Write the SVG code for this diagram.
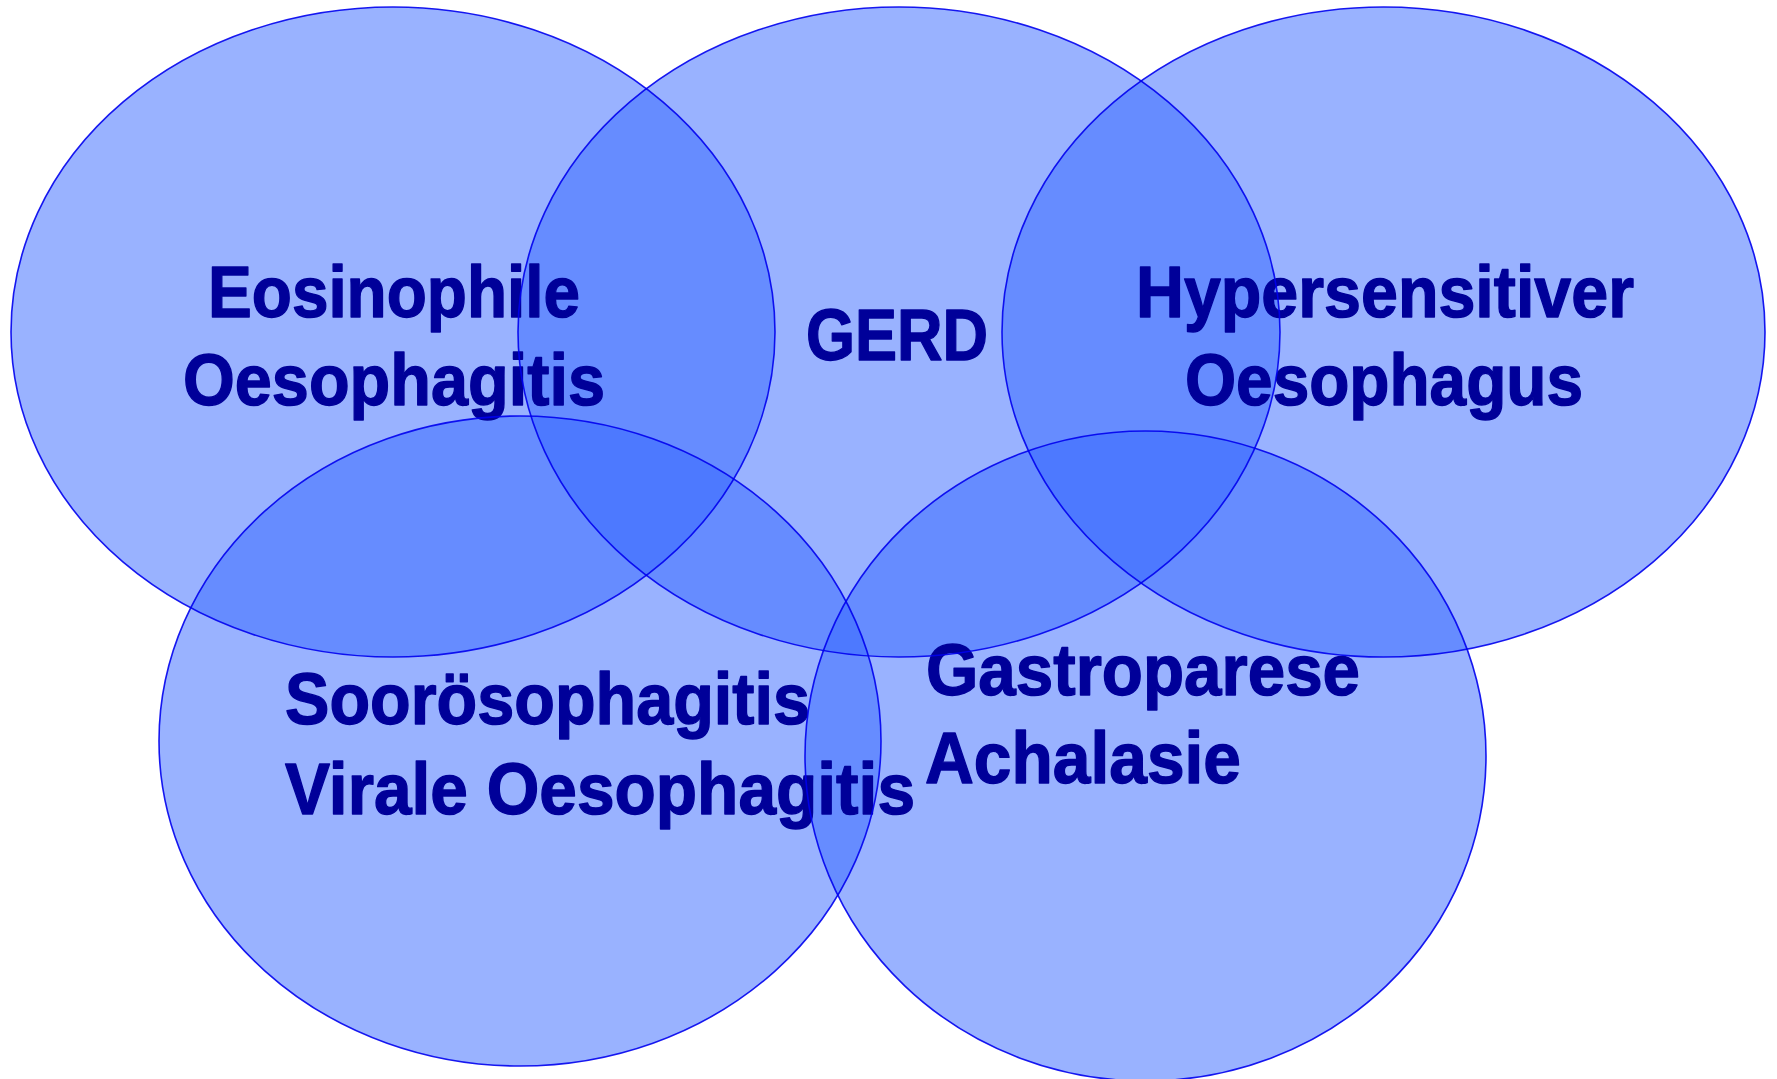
<svg xmlns="http://www.w3.org/2000/svg" width="1777" height="1079" viewBox="0 0 1777 1079">
  <style>
    .blob { fill: #3366ff; fill-opacity: 0.5; stroke: none; }
    .outline { fill: none; stroke: #0000ee; stroke-width: 1.6; stroke-opacity: 0.9; }
    .lbl { font-family: "Liberation Sans Narrow", "Liberation Sans", Arial, sans-serif; font-weight: bold; font-size: 73px; fill: #000099; stroke: #000099; stroke-width: 1.4; stroke-linejoin: round; }
  </style>
  <rect width="1777" height="1079" fill="#ffffff"/>
  <g id="nodes">
    <g id="node-eoe"><ellipse class="blob" cx="393" cy="332" rx="382" ry="325"/></g>
    <g id="node-gerd"><ellipse class="blob" cx="899" cy="332" rx="381" ry="325"/></g>
    <g id="node-hypersensitive"><ellipse class="blob" cx="1383.5" cy="332" rx="381.5" ry="325"/></g>
    <g id="node-infectious"><ellipse class="blob" cx="520" cy="741" rx="361" ry="325"/></g>
    <g id="node-motility"><ellipse class="blob" cx="1145.5" cy="756" rx="340.5" ry="325"/></g>
  </g>
  <g id="labels">
    <g id="label-eoe">
      <text class="lbl" x="208" y="317" textLength="372" lengthAdjust="spacingAndGlyphs">Eosinophile</text>
      <text class="lbl" x="183" y="405" textLength="422" lengthAdjust="spacingAndGlyphs">Oesophagitis</text>
    </g>
    <g id="label-gerd">
      <text class="lbl" x="806" y="360" textLength="182" lengthAdjust="spacingAndGlyphs">GERD</text>
    </g>
    <g id="label-hypersensitive">
      <text class="lbl" x="1136" y="317" textLength="498" lengthAdjust="spacingAndGlyphs">Hypersensitiver</text>
      <text class="lbl" x="1185" y="405" textLength="398" lengthAdjust="spacingAndGlyphs">Oesophagus</text>
    </g>
    <g id="label-infectious">
      <text class="lbl" x="285" y="724" textLength="525" lengthAdjust="spacingAndGlyphs">Soorösophagitis</text>
      <text class="lbl" x="285" y="814" textLength="630" lengthAdjust="spacingAndGlyphs">Virale Oesophagitis</text>
    </g>
    <g id="label-motility">
      <text class="lbl" x="926" y="695" textLength="434" lengthAdjust="spacingAndGlyphs">Gastroparese</text>
      <text class="lbl" x="925" y="783" textLength="316" lengthAdjust="spacingAndGlyphs">Achalasie</text>
    </g>
  </g>
  <g id="outlines">
    <ellipse class="outline" cx="393" cy="332" rx="382" ry="325"/>
    <ellipse class="outline" cx="899" cy="332" rx="381" ry="325"/>
    <ellipse class="outline" cx="1383.5" cy="332" rx="381.5" ry="325"/>
    <ellipse class="outline" cx="520" cy="741" rx="361" ry="325"/>
    <ellipse class="outline" cx="1145.5" cy="756" rx="340.5" ry="325"/>
  </g>
</svg>
